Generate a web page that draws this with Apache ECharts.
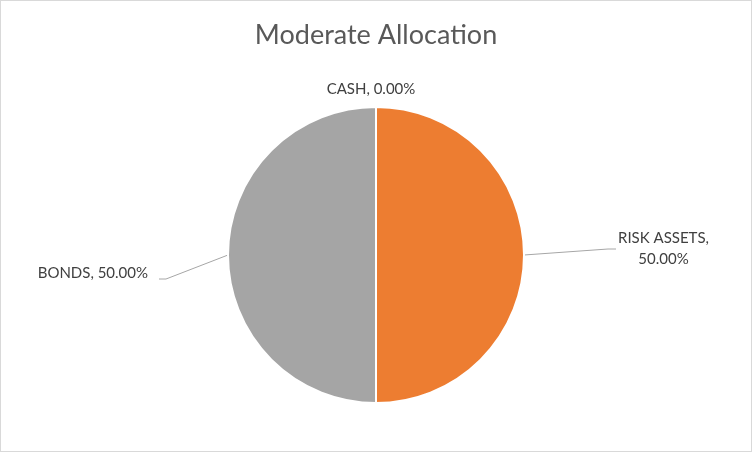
<!DOCTYPE html>
<html><head><meta charset="utf-8">
<script src="https://cdn.jsdelivr.net/npm/echarts@6/dist/echarts.min.js"></script>
<style>
html,body{margin:0;padding:0;background:#fff;}
#c{position:absolute;left:0;top:0;width:750px;height:450px;border:1px solid #d9d9d9;}
</style></head><body>
<div id="c"></div>
<script>
const title = 'Moderate Allocation';
const categories = ['CASH', 'RISK ASSETS', 'BONDS'];
const values = [0, 50, 50];
const colors = ['#4472C4', '#ED7D31', '#A5A5A5'];

const total = values.reduce((a, b) => a + b, 0);
const lineCfg = [
  {show: false, length: 8, length2: 0},
  {length: 84, length2: 8},
  {length: 62, length2: 7}
];
const labelShift = [[0, -10], [-3, -6], [-6, 18]];
const lineShift = [0, -6, 24];

const chart = echarts.init(document.getElementById('c'), null, {renderer: 'canvas'});
chart.setOption({
  animation: false,
  title: {
    text: title, left: 'center', top: 16,
    textStyle: {fontFamily: 'Lato', fontWeight: 'normal', fontSize: 27, color: '#595959'}
  },
  series: [{
    type: 'pie',
    center: [375, 254],
    radius: 148,
    startAngle: 90,
    clockwise: true,
    avoidLabelOverlap: false,
    itemStyle: {borderColor: '#fff', borderWidth: 2},
    label: {
      show: true, position: 'outside',
      fontFamily: 'Lato', fontSize: 15, color: '#404040', lineHeight: 21,
      formatter: p => {
        const pct = (total ? p.value / total * 100 : 0).toFixed(2) + '%';
        return p.name === 'RISK ASSETS'
          ? '{c|' + p.name + ',}\n{c|' + pct + '}'
          : p.name + ', ' + pct;
      },
      rich: {c: {align: 'center', fontFamily: 'Lato', fontSize: 15, color: '#404040', lineHeight: 21}}
    },
    labelLine: {lineStyle: {color: '#a6a6a6', width: 1}, smooth: false},
    labelLayout: p => {
      const i = p.dataIndex, dy = lineShift[i];
      const pts = p.labelLinePoints;
      const out = {dx: labelShift[i][0], dy: labelShift[i][1]};
      if (i === 0) out.align = 'center';
      if (pts && dy) {
        out.labelLinePoints = [pts[0].slice(), [pts[1][0], pts[1][1] + dy], [pts[2][0], pts[2][1] + dy]];
      }
      return out;
    },
    data: categories.map((c, i) => ({
      name: c, value: values[i],
      itemStyle: {color: colors[i]},
      labelLine: lineCfg[i]
    }))
  }]
});
</script></body></html>
